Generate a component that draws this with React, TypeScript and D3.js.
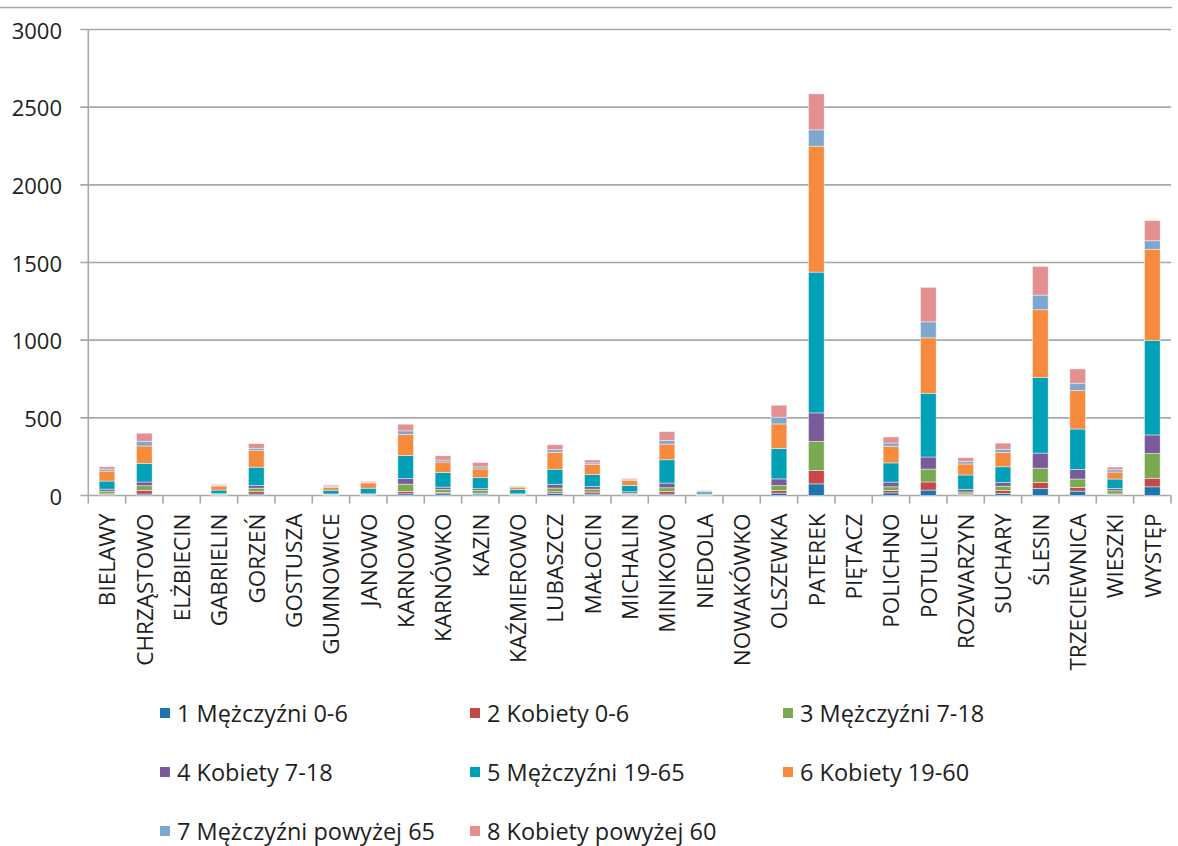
import React from "react";
import * as d3 from "d3";

const categories = [
  "BIELAWY", "CHRZĄSTOWO", "ELŻBIECIN", "GABRIELIN", "GORZEŃ", "GOSTUSZA", "GUMNOWICE",
  "JANOWO", "KARNOWO", "KARNÓWKO", "KAZIN", "KAŹMIEROWO", "LUBASZCZ", "MAŁOCIN",
  "MICHALIN", "MINIKOWO", "NIEDOLA", "NOWAKÓWKO", "OLSZEWKA", "PATEREK", "PIĘTACZ",
  "POLICHNO", "POTULICE", "ROZWARZYN", "SUCHARY", "ŚLESIN", "TRZECIEWNICA", "WIESZKI", "WYSTĘP",
];

const seriesNames = [
  "1 Mężczyźni 0-6",
  "2 Kobiety 0-6",
  "3 Mężczyźni 7-18",
  "4 Kobiety 7-18",
  "5 Mężczyźni 19-65",
  "6 Kobiety 19-60",
  "7 Mężczyźni powyżej 65",
  "8 Kobiety powyżej 60",
];

const seriesColors = ["#1F74AE", "#C4484A", "#79AA51", "#7A5B9A", "#00A0B6", "#F68A3D", "#7EA7CF", "#E29090"];

const m0_6 = [5, 9, 0, 2, 9, 0, 2, 2, 11, 11, 9, 2, 13, 9, 4, 9, 2, 0, 15, 75, 0, 17, 35, 4, 13, 45, 28, 6, 56];
const k0_6 = [6, 24, 0, 2, 17, 0, 2, 2, 15, 9, 3, 2, 11, 13, 3, 17, 2, 0, 17, 86, 0, 15, 52, 6, 19, 39, 24, 4, 55];
const m7_18 = [17, 30, 0, 6, 21, 0, 4, 5, 47, 19, 21, 5, 24, 19, 7, 24, 3, 0, 32, 187, 0, 24, 83, 13, 28, 92, 54, 21, 159];
const k7_18 = [13, 24, 0, 2, 17, 0, 2, 2, 36, 15, 11, 2, 24, 17, 10, 30, 3, 0, 43, 184, 0, 30, 78, 17, 24, 97, 62, 15, 120];
const m19_65 = [52, 120, 0, 23, 118, 0, 24, 36, 148, 94, 71, 28, 97, 77, 41, 150, 13, 0, 195, 906, 0, 124, 410, 92, 101, 486, 260, 60, 608];
const k19_60 = [64, 112, 0, 26, 107, 0, 17, 34, 135, 67, 56, 15, 109, 64, 32, 101, 6, 0, 159, 811, 0, 107, 357, 71, 92, 437, 248, 45, 587];
const m65 = [13, 30, 0, 4, 15, 0, 6, 4, 24, 13, 13, 3, 17, 11, 5, 24, 2, 0, 43, 105, 0, 21, 103, 15, 21, 94, 47, 15, 55];
const k60 = [15, 52, 0, 6, 30, 0, 9, 5, 43, 28, 28, 4, 32, 19, 8, 56, 3, 0, 77, 232, 0, 39, 222, 26, 39, 185, 92, 17, 130];

const seriesValues = [m0_6, k0_6, m7_18, k7_18, m19_65, k19_60, m65, k60];

const yTicks = [0, 500, 1000, 1500, 2000, 2500, 3000];

const W = 1178;
const H = 846;
const left = 88.3;
const right = 1171;
const top = 29.5;
const bottom = 495.5;

export default function App() {
  const rows = categories.map((c, i) => {
    const r: Record<string, any> = { cat: c };
    seriesNames.forEach((s, j) => (r[s] = seriesValues[j][i]));
    return r;
  });
  const stacked = d3.stack<any>().keys(seriesNames)(rows);

  const x = d3.scaleBand<string>().domain(categories).range([left, right]).paddingInner(0).paddingOuter(0);
  const y = d3.scaleLinear().domain([0, 3000]).range([bottom, top]);
  const bw = x.bandwidth();
  const barW = bw * 0.42;

  const grid = "#A8A8A8";
  const font = "'Open Sans', 'DejaVu Sans', sans-serif";

  const legendCols = [160, 470, 783];
  const legendRows = [713, 772, 831];

  return (
    <svg width={W} height={H} style={{ position: "absolute", left: 0, top: 0, background: "#fff" }}>
      <line x1={0} x2={1172} y1={7.5} y2={7.5} stroke={grid} strokeWidth={1.5} />
      {yTicks.map((t) => (
        <g key={t}>
          <line x1={left - 8} x2={right} y1={y(t)} y2={y(t)} stroke={grid} strokeWidth={1.6} />
          <text x={62} y={y(t)} textAnchor="end" dominantBaseline="central" fontFamily={font} fontSize={22} fill="#1e1e1e">
            {t}
          </text>
        </g>
      ))}
      <line x1={left} x2={left} y1={top} y2={bottom + 8} stroke={grid} strokeWidth={1.6} />
      {categories.map((c) => (
        <line key={c} x1={x(c)! + bw} x2={x(c)! + bw} y1={bottom} y2={bottom + 8} stroke={grid} strokeWidth={1.6} />
      ))}
      {stacked.map((layer, j) => (
        <g key={layer.key} fill={seriesColors[j]}>
          {layer.map((d, i) => {
            const h = y(d[0]) - y(d[1]);
            if (h <= 0) return null;
            return (
              <rect
                key={i}
                x={x(categories[i])! + (bw - barW) / 2}
                y={y(d[1])}
                width={barW}
                height={h}
                stroke="#ffffff"
                strokeOpacity={0.55}
                strokeWidth={0.8}
              />
            );
          })}
        </g>
      ))}
      {categories.map((c) => (
        <text
          key={c}
          transform={`translate(${x(c)! + bw / 2},${bottom + 18}) rotate(-90)`}
          textAnchor="end"
          dominantBaseline="central"
          fontFamily={font}
          fontSize={22.5}
          fill="#1e1e1e"
        >
          {c}
        </text>
      ))}
      {seriesNames.map((s, j) => {
        const cx = legendCols[j % 3];
        const cy = legendRows[Math.floor(j / 3)];
        return (
          <g key={s}>
            <rect x={cx} y={cy - 5} width={10} height={10} fill={seriesColors[j]} />
            <text x={cx + 17} y={cy} dominantBaseline="central" fontFamily={font} fontSize={23.5} fill="#1e1e1e">
              {s}
            </text>
          </g>
        );
      })}
    </svg>
  );
}
